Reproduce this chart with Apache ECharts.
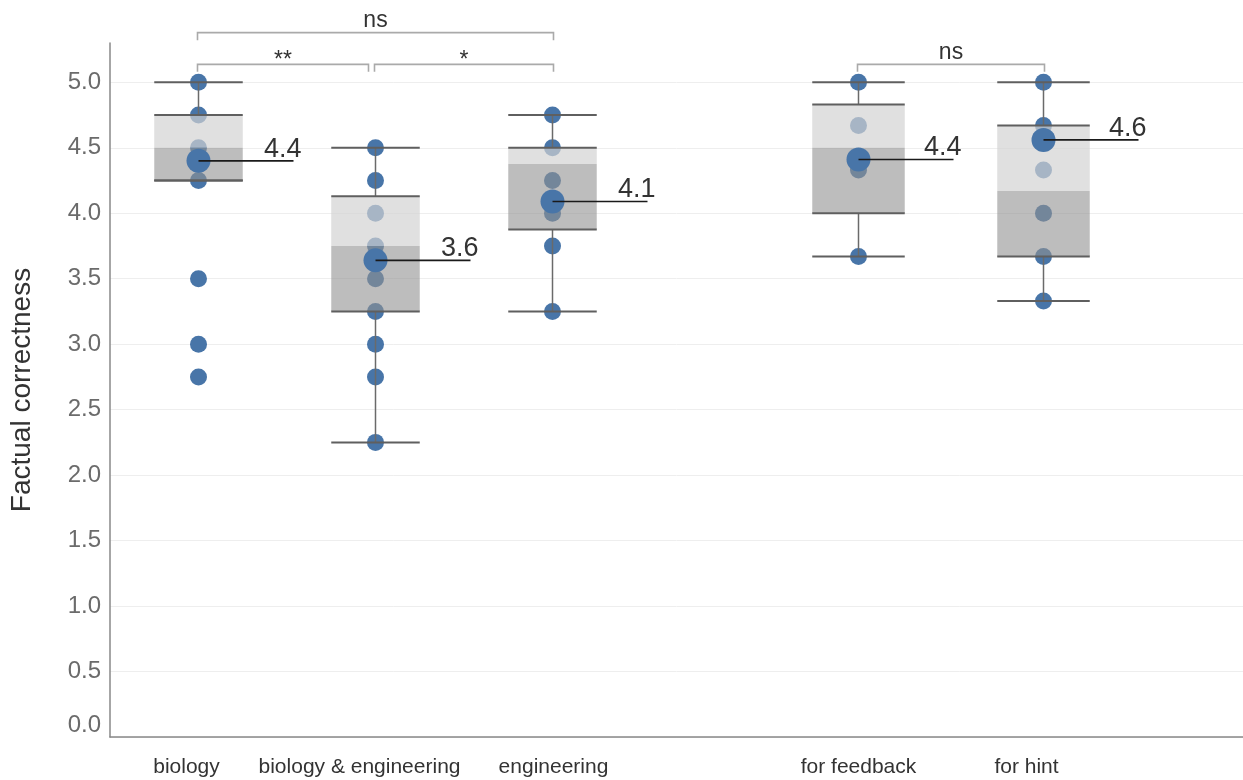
<!DOCTYPE html>
<html>
<head>
<meta charset="utf-8">
<script src="https://cdn.jsdelivr.net/npm/echarts@6/dist/echarts.min.js"></script>
<style>html,body{margin:0;padding:0;background:#fff}#c{width:1243px;height:780px}</style>
</head>
<body>
<div id="c"></div>
<script>
// ---- data ----
const categoriesA = ['biology', 'biology & engineering', 'engineering'];
const categoriesB = ['for feedback', 'for hint'];
const yTicks = [0, 0.5, 1, 1.5, 2, 2.5, 3, 3.5, 4, 4.5, 5];

const pointsBiology = [5.0, 4.75, 4.5, 4.25, 3.5, 3.0, 2.75];
const pointsBioEng = [4.5, 4.25, 4.0, 3.75, 3.5, 3.25, 3.0, 2.75, 2.25];
const pointsEngineering = [4.75, 4.5, 4.25, 4.0, 3.75, 3.25];
const pointsFeedback = [5.0, 4.67, 4.33, 3.67];
const pointsHint = [5.0, 4.67, 4.33, 4.0, 3.67, 3.33];

// [low whisker, Q1, median, Q3, high whisker]
const boxBiology = [4.25, 4.25, 4.5, 4.75, 5.0];
const boxBioEng = [2.25, 3.25, 3.75, 4.13, 4.5];
const boxEngineering = [3.25, 3.875, 4.375, 4.5, 4.75];
const boxFeedback = [3.67, 4.0, 4.5, 4.83, 5.0];
const boxHint = [3.33, 3.67, 4.17, 4.67, 5.0];

const meansA = [4.40, 3.64, 4.09];
const meansB = [4.41, 4.56];

// [from, to, level, label]
const bracketsA = [[0, 1, 1, '**'], [1, 2, 1, '*'], [0, 2, 2, 'ns']];
const bracketsB = [[0, 1, 1, 'ns']];

// ---- styling ----
const FONT = '"Liberation Sans", Arial, sans-serif';
const BLUE = '#4875a8';
// horizontal nudge (px) of category labels, as seen in the reference
const LABEL_NUDGE = { 'biology': -12, 'biology & engineering': -16, 'engineering': 1, 'for feedback': 0, 'for hint': -17 };

// ---- build ----
const pointsA = [pointsBiology, pointsBioEng, pointsEngineering];
const pointsB = [pointsFeedback, pointsHint];
const boxesA = [boxBiology, boxBioEng, boxEngineering];
const boxesB = [boxFeedback, boxHint];
const Y_MIN = 0, Y_MAX = 5.3;

function flatPoints(groups) {
  const out = [];
  groups.forEach((g, i) => g.forEach(v => out.push([i, v])));
  return out;
}

function renderBox(params, api) {
  const i = api.value(0);
  const lo = api.coord([i, api.value(1)]);
  const q1 = api.coord([i, api.value(2)]);
  const md = api.coord([i, api.value(3)]);
  const q3 = api.coord([i, api.value(4)]);
  const hi = api.coord([i, api.value(5)]);
  const bw = api.size([1, 0])[0] * 0.5;
  const cx = lo[0];
  const x0 = cx - bw / 2;
  const edge = { stroke: '#5f5f5f', lineWidth: 2 };
  const wh = { stroke: '#6a6a6a', lineWidth: 1.5 };
  return {
    type: 'group',
    children: [
      { type: 'rect', shape: { x: x0, y: q3[1], width: bw, height: md[1] - q3[1] }, style: { fill: 'rgba(210,210,210,0.69)' } },
      { type: 'rect', shape: { x: x0, y: md[1], width: bw, height: q1[1] - md[1] }, style: { fill: 'rgba(145,145,145,0.6)' } },
      { type: 'line', shape: { x1: cx, y1: hi[1], x2: cx, y2: q3[1] }, style: wh },
      { type: 'line', shape: { x1: cx, y1: q1[1], x2: cx, y2: lo[1] }, style: wh },
      { type: 'line', shape: { x1: x0, y1: hi[1], x2: x0 + bw, y2: hi[1] }, style: edge },
      { type: 'line', shape: { x1: x0, y1: lo[1], x2: x0 + bw, y2: lo[1] }, style: edge },
      { type: 'line', shape: { x1: x0, y1: q3[1], x2: x0 + bw, y2: q3[1] }, style: edge },
      { type: 'line', shape: { x1: x0, y1: q1[1], x2: x0 + bw, y2: q1[1] }, style: edge }
    ]
  };
}

function renderMeanLine(params, api) {
  const p = api.coord([api.value(0), api.value(1)]);
  const len = 95;
  return {
    type: 'group',
    children: [
      { type: 'line', shape: { x1: p[0], y1: p[1], x2: p[0] + len, y2: p[1] }, style: { stroke: '#1a1a1a', lineWidth: 1.6 } },
      { type: 'text', x: p[0] + len + 8, y: p[1] + 2, style: { text: api.value(1).toFixed(1), fill: '#333', font: '27px ' + FONT, align: 'right', verticalAlign: 'bottom' } }
    ]
  };
}

function makeBracketRenderer(list) {
  return function (params, api) {
    const b = list[params.dataIndex];
    const levelVal = 5.137 + (b[2] - 1) * 0.242;
    const a = api.coord([b[0], levelVal]);
    const c = api.coord([b[1], levelVal]);
    let x1 = a[0] - 1, x2 = c[0] + 1;
    const shared = list.some(o => o !== b && o[2] === b[2] && o[0] === b[1]);
    if (shared) x2 -= 8;
    const y = a[1], t = 7.5;
    const isStar = /^\*+$/.test(b[3]);
    const st = { stroke: '#aaaaaa', lineWidth: 1.6, fill: null };
    return {
      type: 'group',
      children: [
        { type: 'polyline', shape: { points: [[x1, y + t], [x1, y], [x2, y], [x2, y + t]] }, style: st },
        { type: 'text', x: (x1 + x2) / 2, y: y + (isStar ? 8 : 0), style: { text: b[3], fill: '#333', font: '23px ' + FONT, align: 'center', verticalAlign: 'bottom' } }
      ]
    };
  };
}

function groupSeries(xi, points, boxes, means, brackets) {
  return [
    { type: 'scatter', xAxisIndex: xi, yAxisIndex: xi, z: 1, symbolSize: 17, itemStyle: { color: BLUE, opacity: 1 }, data: flatPoints(points), silent: true },
    { type: 'custom', xAxisIndex: xi, yAxisIndex: xi, z: 2, renderItem: renderBox, data: boxes.map((b, i) => [i].concat(b)), silent: true },
    { type: 'scatter', xAxisIndex: xi, yAxisIndex: xi, z: 4, symbolSize: 24, itemStyle: { color: BLUE, opacity: 1 }, data: means.map((m, i) => [i, m]), silent: true },
    { type: 'custom', xAxisIndex: xi, yAxisIndex: xi, z: 5, renderItem: renderMeanLine, data: means.map((m, i) => [i, m]), silent: true },
    { type: 'custom', xAxisIndex: xi, yAxisIndex: xi, z: 5, clip: false, renderItem: makeBracketRenderer(brackets), data: brackets.map(b => [b[0], b[1]]), silent: true }
  ];
}

const hiddenY = { type: 'value', min: Y_MIN, max: Y_MAX, show: false };
function catX(gi, cats) {
  const rich = {};
  cats.forEach((c, i) => {
    const d = LABEL_NUDGE[c] || 0;
    rich['l' + i] = { fontSize: 21, color: '#333', fontFamily: FONT, padding: d < 0 ? [0, -2 * d, 0, 0] : [0, 0, 0, 2 * d] };
  });
  return {
    type: 'category', gridIndex: gi, data: cats, boundaryGap: true,
    axisLine: { show: false }, axisTick: { show: false }, splitLine: { show: false },
    axisLabel: {
      fontSize: 21, color: '#333', fontFamily: FONT, margin: 20, interval: 0,
      formatter: (v, idx) => '{l' + idx + '|' + v + '}', rich: rich
    }
  };
}

const option = {
  animation: false,
  backgroundColor: '#fff',
  grid: [
    { left: 110, right: 0, top: 43, bottom: 43 },
    { left: 110, width: 531, top: 43, bottom: 43 },
    { left: 766, width: 370, top: 43, bottom: 43 }
  ],
  xAxis: [
    { type: 'value', gridIndex: 0, min: 0, max: 1, axisLine: { show: true, onZero: false, lineStyle: { color: '#888', width: 1.5 } }, axisTick: { show: false }, axisLabel: { show: false }, splitLine: { show: false } },
    catX(1, categoriesA),
    catX(2, categoriesB)
  ],
  yAxis: [
    {
      type: 'value', gridIndex: 0, min: Y_MIN, max: Y_MAX, interval: 0.5,
      name: 'Factual correctness', nameLocation: 'middle', nameGap: 74, nameRotate: 90,
      nameTextStyle: { fontSize: 28, color: '#333', fontFamily: FONT },
      axisLine: { show: true, lineStyle: { color: '#888', width: 1.5 } },
      axisTick: { show: false, customValues: yTicks },
      splitLine: { show: true, lineStyle: { color: '#eeeeee', width: 1 } },
      axisLabel: {
        customValues: yTicks,
        fontSize: 24, color: '#6b6b6b', fontFamily: FONT, margin: 9,
        formatter: v => {
          const hit = yTicks.find(t => Math.abs(t - v) < 1e-6);
          if (hit === undefined) return '';
          return hit === 0 ? '{z|' + hit.toFixed(1) + '}' : hit.toFixed(1);
        },
        rich: { z: { fontSize: 24, color: '#6b6b6b', fontFamily: FONT, padding: [0, 0, 24, 0] } }
      }
    },
    Object.assign({ gridIndex: 1 }, hiddenY),
    Object.assign({ gridIndex: 2 }, hiddenY)
  ],
  series: [].concat(
    groupSeries(1, pointsA, boxesA, meansA, bracketsA),
    groupSeries(2, pointsB, boxesB, meansB, bracketsB)
  )
};

const chart = echarts.init(document.getElementById('c'), null, { renderer: 'canvas' });
chart.setOption(option);
</script>
</body>
</html>
